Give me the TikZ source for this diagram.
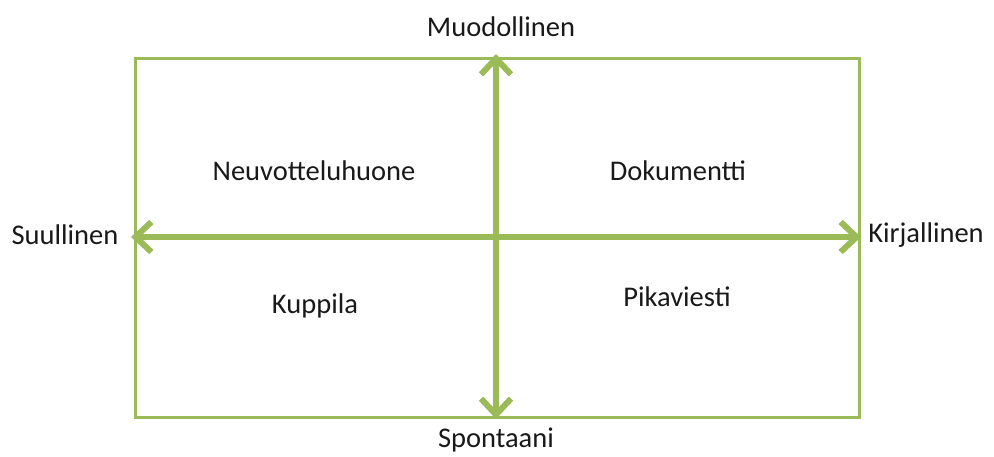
\documentclass[tikz,border=0pt]{standalone}
\usepackage{fontspec}
\setmainfont{Carlito}
\usetikzlibrary{arrows.meta}
\definecolor{ogreen}{HTML}{9BBB59}
\begin{document}
\begin{tikzpicture}[x=1pt,y=-1pt,
  lbl/.style={font=\fontsize{28.5}{34}\selectfont, text=black!90, inner sep=0pt},
  tipb/.tip={Straight Barb[length=16pt,width=30pt,line width=6pt]},
  axis/.style={draw=ogreen, line width=6pt, tipb-tipb, shorten <=-3pt, shorten >=-3pt}]
\useasboundingbox (0,0) rectangle (994,456);
\node[draw=ogreen, line width=2.5pt, minimum width=724pt, minimum height=359pt, anchor=north west, inner sep=0pt] (frame) at (134,57) {};
\coordinate (top) at (496,57);
\coordinate (bot) at (496,416);
\coordinate (left) at (134,237);
\coordinate (right) at (858,237);
\draw[axis] (bot) -- (top);
\draw[axis] (left) -- (right);
\node[lbl] (muo) at (501,27) {Muodollinen};
\node[lbl] (spo) at (496,440) {Spontaani};
\node[lbl] (suu) at (65,235) {Suullinen};
\node[lbl] (kir) at (926,235) {Kirjallinen};
\node[lbl] (neu) at (314,171) {Neuvotteluhuone};
\node[lbl] (dok) at (678,171) {Dokumentti};
\node[lbl] (kup) at (315,306) {Kuppila};
\node[lbl] (pik) at (677,297) {Pikaviesti};
\end{tikzpicture}
\end{document}
